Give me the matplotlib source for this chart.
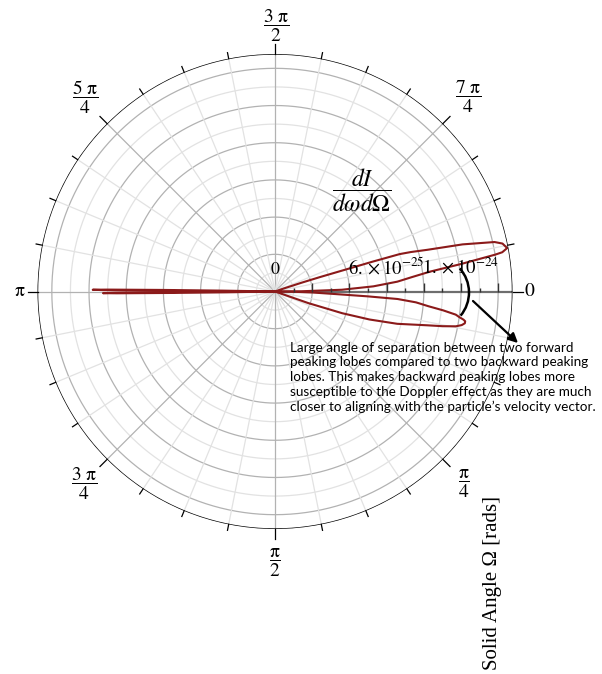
import numpy as np
import matplotlib.pyplot as plt
from matplotlib.path import Path
from matplotlib.patches import Arc

plt.rcParams['font.family'] = ['Liberation Serif', 'DejaVu Serif']
plt.rcParams['mathtext.fontset'] = 'stix'

SCALE = 1e-25  # radial values below are in units of 1e-25

# forward lobe above the axis (degrees, clockwise from 0)
upper_theta = [0, -0.5, -1.5, -3.0, -4.6, -6.0, -7.3, -8.4, -9.5, -9.8, -10.6,
               -11.9, -12.7, -14.1, -15.3, -16.2, -16.7, -17.0, -17.3, -17.8,
               -18.3, -19.0, -19.5]
upper_r = [0, 1.4, 3.6, 5.3, 6.6, 7.4, 8.4, 10.1, 12.0, 12.4, 12.7,
           12.5, 12.1, 10.4, 8.5, 7.6, 7.0, 5.5, 3.8, 2.5,
           1.5, 0.5, 0]

# forward lobe below the axis
lower_theta = [0, 0.5, 1.5, 2.5, 3.0, 3.5, 4.4, 5.5, 6.4, 7.3, 7.9, 8.5, 8.9,
               9.5, 10.2, 10.9, 11.7, 12.5, 14.8, 16.5, 17.9, 19.2, 20.0]
lower_r = [0, 0.8, 2.0, 3.4, 5.0, 6.6, 7.6, 8.3, 9.1, 9.8, 10.0, 10.25, 10.35,
           10.35, 10.2, 9.9, 9.2, 8.4, 6.8, 5.3, 3.8, 1.9, 0]

# backward lobes (thin spikes around pi)
back_a_theta = [180.0, 180.15, 180.3, 180.45, 180.55, 180.65, 180.8, 180.95, 181.1]
back_a_r = [0, 3.2, 6.4, 9.2, 9.8, 9.0, 6.0, 2.8, 0]
back_b_theta = [180.0, 179.85, 179.7, 179.55, 179.45, 179.35, 179.2, 179.05, 178.9]
back_b_r = [0, 3.0, 6.0, 8.6, 9.25, 8.5, 5.6, 2.6, 0]

r_max = 12.77
grid_r = [1, 2, 3, 4, 5, 6, 7, 8, 9, 10, 11, 12]
radial_labels = {6: r'$6.\times10^{-25}$', 10: r'$1.\times10^{-24}$'}
angle_labels = [(530, 292, r'$0$'), (20, 292, r'$\mathrm{\pi}$'),
                (276, 26, r'$\dfrac{3\ \mathrm{\pi}}{2}$'),
                (275, 563, r'$\dfrac{\mathrm{\pi}}{2}$'),
                (468, 97, r'$\dfrac{7\ \mathrm{\pi}}{4}$'),
                (85, 97, r'$\dfrac{5\ \mathrm{\pi}}{4}$'),
                (84, 484, r'$\dfrac{3\ \mathrm{\pi}}{4}$'),
                (464, 484, r'$\dfrac{\mathrm{\pi}}{4}$')]
note = ("Large angle of separation between two forward\n"
        "peaking lobes compared to two backward peaking\n"
        "lobes. This makes backward peaking lobes more\n"
        "susceptible to the Doppler effect as they are much\n"
        "closer to aligning with the particle\u2019s velocity vector.")

W, H = 602, 674
fig = plt.figure(figsize=(W / 100, H / 100), dpi=100)
cx, cy, R = 275, 291.5, 237.5
ax = fig.add_axes([(cx - R) / W, (H - cy - R) / H, 2 * R / W, 2 * R / H],
                  projection='polar')
ax.set_theta_direction(-1)
ax.set_theta_offset(0)
ax.set_ylim(0, r_max * SCALE)
ax.grid(False)
ax.set_xticks([])
ax.set_yticks([])
ax.spines['polar'].set_visible(False)

px = r_max / R  # data units per pixel
ring = np.linspace(0, 2 * np.pi, 721)
for g in grid_r:
    col = '#b2b2b2' if g % 2 == 0 else '#e2e2e2'
    ax.plot(ring, np.full_like(ring, g * SCALE), color=col, lw=0.9, zorder=1)
for k in range(1, 32):
    t = k * np.pi / 16
    col = '#b2b2b2' if k % 4 == 0 else '#e2e2e2'
    ax.plot([t, t], [0, r_max * SCALE], color=col, lw=0.9, zorder=1)

# outer frame and its ticks
ax.plot(ring, np.full_like(ring, r_max * SCALE), color='black', lw=1.0, zorder=4)
for k in range(32):
    t = k * np.pi / 16
    ln = 10 if k % 4 == 0 else 6
    ax.plot([t, t], [r_max * SCALE, (r_max + ln * px) * SCALE], color='black',
            lw=0.9, clip_on=False, zorder=4)

# radial axis along 0
ax.plot([0, 0], [0, r_max * SCALE], color='#6e6e6e', lw=1.6, zorder=2)
tick_marker = Path([(0, 0), (0, 1)])
for g in grid_r:
    ax.plot(0, g * SCALE, marker=tick_marker, color='#333333',
            markersize=13 if g % 2 == 0 else 6, markeredgewidth=1.0,
            zorder=5, clip_on=False)

red = '#8b1a1a'
for th, rr in [(upper_theta, upper_r), (lower_theta, lower_r),
               (back_a_theta, back_a_r), (back_b_theta, back_b_r)]:
    ax.plot(np.deg2rad(th), np.array(rr) * SCALE, color=red, lw=1.5, zorder=3,
            solid_joinstyle='round')

ax.annotate(r'$0$', xy=(0, 0), xytext=(0, 22), textcoords='offset pixels',
            ha='center', va='center', fontsize=13, zorder=6)
for g, lab in radial_labels.items():
    ax.annotate(lab, xy=(0, g * SCALE), xytext=(0, 24), textcoords='offset pixels',
                ha='center', va='center', fontsize=13.5, zorder=6)

# overlay in pixel coordinates for labels and annotation
ov = fig.add_axes([0, 0, 1, 1], facecolor='none')
ov.set_xlim(0, W)
ov.set_ylim(H, 0)
ov.axis('off')
for x, y, s in angle_labels:
    ov.text(x, y, s, ha='center', va='center', fontsize=14)
ov.text(362, 190, r'$\dfrac{dI}{d\omega d\Omega}$', ha='center', va='center',
        fontsize=17)
ov.text(492, 583, 'Solid Angle \u03a9 [rads]', rotation=90, ha='center',
        va='center', fontsize=15)
ov.text(290, 342, note, ha='left', va='top', fontsize=9.7, family='Lato',
        linespacing=1.25)
ov.add_patch(Arc((433, 292.5), 72, 72, theta1=-42, theta2=40, color='black', lw=1.8))
ov.annotate('', xy=(518, 343), xytext=(473, 301),
            arrowprops=dict(arrowstyle='-|>', color='black', lw=1.6,
                            mutation_scale=14, shrinkA=0, shrinkB=0))

fig.savefig('out.png', dpi=100, facecolor='white')
